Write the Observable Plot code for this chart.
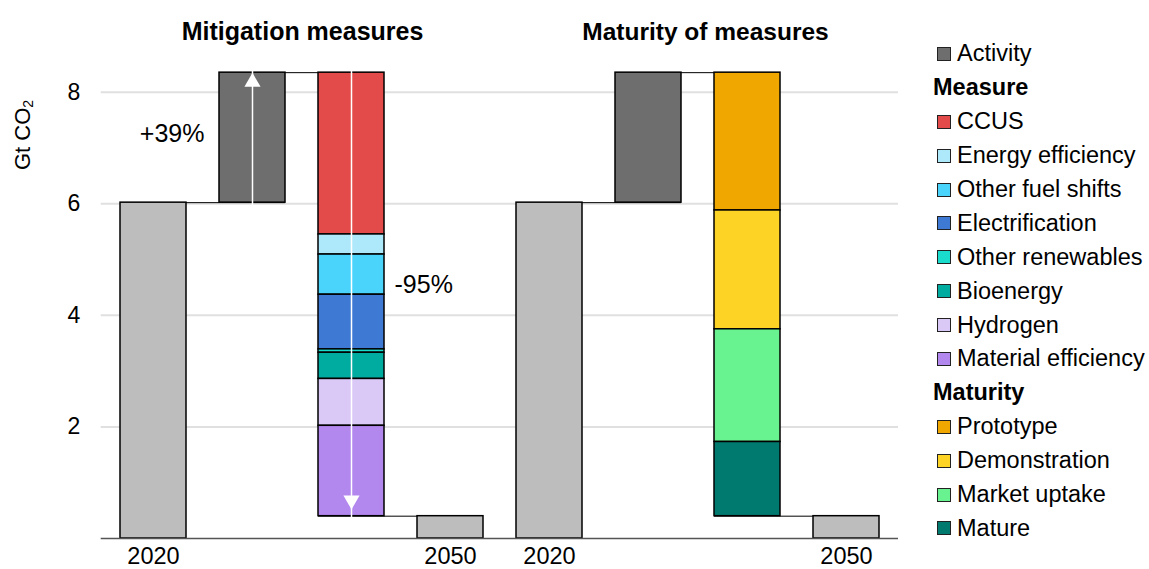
<!DOCTYPE html>
<html><head><meta charset="utf-8">
<script src="https://cdn.jsdelivr.net/npm/d3@7"></script>
<script src="https://cdn.jsdelivr.net/npm/@observablehq/plot@0.6"></script>
<style>
body{margin:0;background:#fff;font-family:"Liberation Sans",Arial,sans-serif;}
#wrap{position:relative;width:1149px;height:569px;overflow:hidden;background:#fff}
#chart svg{display:block}
#legend{position:absolute;left:933px;top:37px;font-size:23.5px;color:#000}
.row{height:33.9px;display:flex;align-items:center;white-space:nowrap}
.sw{width:12px;height:12px;border:1px solid #222;margin-left:4px;margin-right:6px;flex:none}
.hdr{font-weight:bold}
#ylab{position:absolute;left:23px;top:135px;transform:translate(-50%,-50%) rotate(-90deg);font-size:22px;white-space:nowrap;line-height:1}
#ylab sub{font-size:14px;vertical-align:-3px;line-height:0}
</style></head><body>
<div id="wrap"><div id="chart"></div><div id="ylab"></div><div id="legend"></div></div>
<script>
// ---- data ----
const columns = ["m2020","mAct","mStack","m2050","t2020","tAct","tStack","t2050"];
const columnLabels = ["2020","","","2050","2020","","","2050"];
const emissions2020 = 6.02;
const emissionsActivity = 8.35;
const emissions2050 = 0.40;
const measureNames = ["CCUS","Energy efficiency","Other fuel shifts","Electrification","Other renewables","Bioenergy","Hydrogen","Material efficiency"];
const measureValues = [2.90, 0.36, 0.72, 0.98, 0.06, 0.47, 0.84, 1.62];
const measureColors = ["#e34b4a","#aee9fb","#4bd4fb","#3e79d4","#19dccd","#00ab9f","#dac8f6","#b287ee"];
const maturityNames = ["Prototype","Demonstration","Market uptake","Mature"];
const maturityValues = [2.47, 2.13, 2.02, 1.33];
const maturityColors = ["#f0a800","#fdd326","#69f290","#007a6e"];
const activityColor = "#6d6e6d";
const totalColor = "#bdbdbd";
const changeLabels = ["+39%","-95%"];
const panelTitles = ["Mitigation measures","Maturity of measures"];
const yTicks = [2,4,6,8];
const yLabelMain = "Gt CO";
const yLabelSub = "2";

// ---- build tables ----
const bars = [], connectors = [];
function panel(p, names, values, colors){
  bars.push({col:p+"2020", y1:0, y2:emissions2020, fill:totalColor});
  bars.push({col:p+"Act", y1:emissions2020, y2:emissionsActivity, fill:activityColor});
  let top = emissionsActivity;
  names.forEach((n,i)=>{ bars.push({col:p+"Stack", y1:top-values[i], y2:top, fill:colors[i]}); top -= values[i]; });
  bars.push({col:p+"2050", y1:0, y2:emissions2050, fill:totalColor});
  connectors.push({x1:p+"2020", x2:p+"Act", y:emissions2020});
  connectors.push({x1:p+"Act", x2:p+"Stack", y:emissionsActivity});
  connectors.push({x1:p+"Stack", x2:p+"2050", y:emissions2050});
}
panel("m", measureNames, measureValues, measureColors);
panel("t", maturityNames, maturityValues, maturityColors);
const labelOf = Object.fromEntries(columns.map((c,i)=>[c,columnLabels[i]]));

const upArrow = [{col:"mAct", y1:emissions2020, y2:emissionsActivity}];
const downArrow = [{col:"mStack", y1:emissions2050, y2:emissionsActivity}];
const triDown = {draw(ctx, size){const y=-Math.sqrt(size/(Math.sqrt(3)*3)); ctx.moveTo(0,-y*2); ctx.lineTo(-Math.sqrt(3)*y,y); ctx.lineTo(Math.sqrt(3)*y,y); ctx.closePath();}};

const font = "'Liberation Sans', Arial, sans-serif";
const chart = Plot.plot({
  width: 920, height: 569,
  marginLeft: 100.7, marginRight: 22, marginTop: 8, marginBottom: 31,
  style: {fontFamily: font, fontSize: "23px", background: "white", color: "#000"},
  x: {domain: columns, paddingInner: 0.33, paddingOuter: 0.165, label: null},
  y: {domain: [0, 9.5], label: null},
  color: {type: "identity"},
  marks: [
    Plot.ruleY(yTicks, {stroke: "#e0e0e0", strokeWidth: 2}),
    Plot.ruleY(connectors, {x1: "x1", x2: "x2", y: "y", stroke: "#000", strokeWidth: 1}),
    Plot.barY(bars, {x: "col", y1: "y1", y2: "y2", fill: "fill", stroke: "#000", strokeWidth: 1.5}),
    Plot.ruleY([0], {stroke: "#555", strokeWidth: 1.5}),
    Plot.ruleX(upArrow, {x: "col", y1: "y1", y2: "y2", stroke: "white", strokeWidth: 1.5, insetBottom: 3, insetTop: 12}),
    Plot.dot(upArrow, {x: "col", y: "y2", symbol: "triangle", r: 6, fill: "white", stroke: "none", dy: 9.5}),
    Plot.ruleX(downArrow, {x: "col", y1: "y1", y2: "y2", stroke: "white", strokeWidth: 1.5, insetBottom: 20, insetTop: 9.5}),
    Plot.dot(downArrow, {x: "col", y: "y1", symbol: triDown, r: 6, fill: "white", stroke: "none", dy: -16}),
    Plot.text([{col:"mAct", y:(emissions2020+emissionsActivity)/2, t:changeLabels[0]}], {x:"col", y:"y", text:"t", textAnchor:"end", dx:-48, dy:-4, fontSize:25}),
    Plot.text([{col:"mStack", y:(emissions2050+emissionsActivity)/2, t:changeLabels[1]}], {x:"col", y:"y", text:"t", textAnchor:"start", dx:43, dy:-9, fontSize:25}),
    Plot.text([{col:"mAct", t:panelTitles[0]}], {x:"col", text:"t", frameAnchor:"top", lineAnchor:"bottom", dx:50, dy:31, fontSize:25, fontWeight:"bold"}),
    Plot.text([{col:"tAct", t:panelTitles[1]}], {x:"col", text:"t", frameAnchor:"top", lineAnchor:"bottom", dx:57, dy:31, fontSize:24.5, fontWeight:"bold"}),
    Plot.axisY({ticks: yTicks, tickSize: 0, tickPadding: 21, label: null, fontSize: 23}),
    Plot.axisX({tickSize: 0, tickPadding: 9, tickFormat: d => labelOf[d], label: null, fontSize: 23.5})
  ]
});
document.getElementById("chart").appendChild(chart);

// ---- y label ----
const yl = document.getElementById("ylab");
yl.append(document.createTextNode(yLabelMain));
const sub = document.createElement("sub"); sub.textContent = yLabelSub; yl.append(sub);

// ---- legend ----
const legend = document.getElementById("legend");
function item(name, color){
  const r = document.createElement("div"); r.className = "row";
  const s = document.createElement("span"); s.className = "sw"; s.style.background = color;
  const t = document.createElement("span"); t.textContent = name;
  r.append(s, t); legend.append(r);
}
function header(name){
  const r = document.createElement("div"); r.className = "row hdr"; r.textContent = name; legend.append(r);
}
item("Activity", activityColor);
header("Measure");
measureNames.forEach((n,i)=>item(n, measureColors[i]));
header("Maturity");
maturityNames.forEach((n,i)=>item(n, maturityColors[i]));
</script>
</body></html>
